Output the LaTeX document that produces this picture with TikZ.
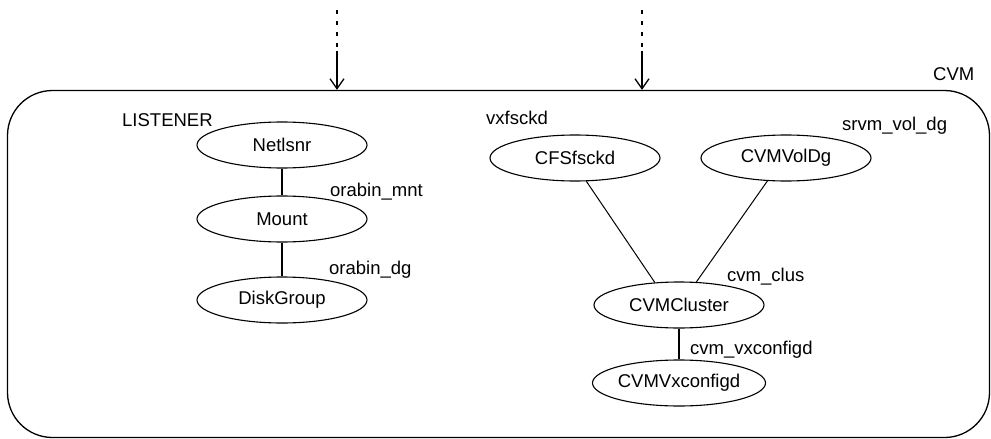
\documentclass[tikz,border=0pt]{standalone}
\usepackage{fontspec}
\setmainfont{Liberation Sans}
\usetikzlibrary{shapes.geometric,arrows.meta}
\begin{document}
\begin{tikzpicture}[x=1pt,y=-1pt,
  font=\fontsize{18.5}{22}\selectfont,
  res/.style={draw,ellipse,line width=1.1pt,minimum width=170pt,minimum height=46pt,inner sep=0pt},
  lbl/.style={anchor=base west,inner sep=0pt},
  thick link/.style={line width=2pt},
  thin link/.style={line width=1pt},
  dotted feed/.style={line width=2pt,dash pattern=on 4pt off 7pt},
  feed/.style={line width=1.4pt,-{Straight Barb[length=10pt,width=14pt,line width=1.3pt]}}]
\useasboundingbox (0,0) rectangle (991,439);
% outer CVM box
\node[draw,line width=1.3pt,rounded corners=45pt,minimum width=982pt,minimum height=347pt,inner sep=0pt] (cvm) at (498.5,264) {};
\node[lbl] (cvmlbl) at (933,80) {CVM};
% incoming arrows
\coordinate (a1t) at (337,10);
\coordinate (a1m) at (337,51);
\coordinate (a2t) at (642,10);
\coordinate (a2m) at (642,51);
\draw[dotted feed] (a1t) -- (a1m);
\draw[dotted feed] (a2t) -- (a2m);
\draw[feed] (a1m) -- (a1m |- cvm.north);
\draw[feed] (a2m) -- (a2m |- cvm.north);
% left group
\node[lbl] (listener) at (122,126) {LISTENER};
\node[res] (net) at (282,145) {Netlsnr};
\node[res] (mnt) at (282,219) {Mount};
\node[res] (dg) at (282,300) {DiskGroup};
\draw[thick link] (net) -- (mnt);
\draw[thick link] (mnt) -- (dg);
\node[lbl] (l1) at (330,196) {orabin\_mnt};
\node[lbl] (l2) at (329,274) {orabin\_dg};
% right group
\node[lbl] (vx) at (486,124) {vxfsckd};
\node[lbl] (srvm) at (842,130) {srvm\_vol\_dg};
\node[res] (cfs) at (575,158) {CFSfsckd};
\node[res] (vol) at (786,158) {CVMVolDg};
\node[res] (clu) at (679,305) {CVMCluster};
\node[res] (vxc) at (679,383) {CVMVxconfigd};
\draw[thin link] (cfs.-64) -- (clu.137);
\draw[thin link] (vol.-129.6) -- (clu.53);
\draw[thick link] (clu) -- (vxc);
\node[lbl] (l3) at (727,281) {cvm\_clus};
\node[lbl] (l4) at (690,354) {cvm\_vxconfigd};
\end{tikzpicture}
\end{document}
